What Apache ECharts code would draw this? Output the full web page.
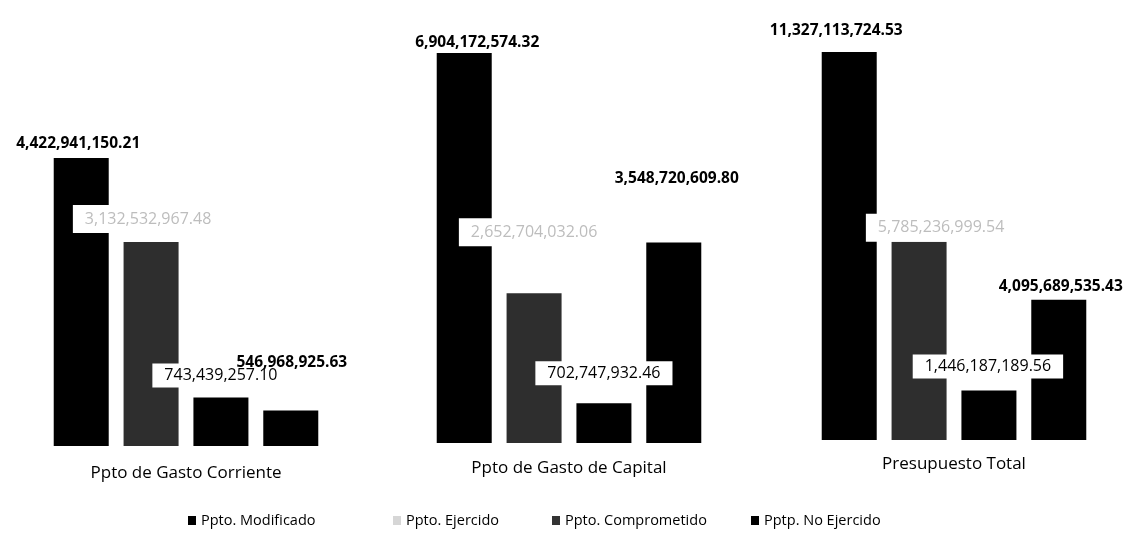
<!DOCTYPE html>
<html>
<head>
<meta charset="utf-8">
<script src="https://cdn.jsdelivr.net/npm/echarts@6/dist/echarts.min.js"></script>
<style>
html, body { margin: 0; background: #fff; }
#chart { width: 1131px; height: 537px; }
</style>
</head>
<body>
<div id="chart"></div>
<script>
// data
const categories = ['Ppto de Gasto Corriente', 'Ppto de Gasto de Capital', 'Presupuesto Total'];
const seriesNames = ['Ppto. Modificado', 'Ppto. Ejercido', 'Ppto. Comprometido', 'Pptp. No Ejercido'];
const modificado = [4422941150.21, 6904172574.32, 11327113724.53];
const ejercido = [3132532967.48, 2652704032.06, 5785236999.54];
const comprometido = [743439257.10, 702747932.46, 1446187189.56];
const noEjercido = [546968925.63, 3548720609.80, 4095689535.43];

const values = [modificado, ejercido, comprometido, noEjercido];
const barColors = ['#000000', '#2e2e2e', '#000000', '#000000'];
const legendColors = ['#000000', '#d6d6d6', '#333333', '#000000'];
const legendLeft = [183, 388, 547, 746];

// each block is its own little chart, like in the original
const grids = [
    { left: 44, width: 284, top: 158, bottom: 91 },
    { left: 427, width: 284, top: 53, bottom: 94 },
    { left: 812, width: 284, top: 52, bottom: 97 }
];
const catMargins = [19, 17, 16];

const labelBase = [
    { fontWeight: 'bold', fontSize: 15.5, color: '#000' },
    { fontSize: 16, color: '#bdbdbd', backgroundColor: '#fff', padding: [6, 12] },
    { fontSize: 16, color: '#000', backgroundColor: '#fff', padding: [4, 12] },
    { fontWeight: 'bold', fontSize: 15.5, color: '#000' }
];
// [distance, dx] per series, per block
const labelPos = [
    [[6.5, -3], [2.5, 13], [13.5, -13]],
    [[9, -3], [47, 0], [0, 22]],
    [[10, 0], [18, 0], [12, -1]],
    [[39.5, 1], [55.5, 3], [5.5, 2]]
];

function fmt(v) {
    return v.toLocaleString('en-US', { minimumFractionDigits: 2, maximumFractionDigits: 2 });
}

const xAxis = [], yAxis = [], series = [];
for (let g = 0; g < 3; g++) {
    xAxis.push({
        type: 'category',
        gridIndex: g,
        data: [categories[g]],
        axisLine: { show: false },
        axisTick: { show: false },
        axisLabel: { margin: catMargins[g], fontSize: 17, color: '#000', fontFamily: 'Open Sans' }
    });
    yAxis.push({ type: 'value', gridIndex: g, min: 0, max: 'dataMax', show: false });
    for (let s = 0; s < 4; s++) {
        series.push({
            name: seriesNames[s],
            type: 'bar',
            xAxisIndex: g,
            yAxisIndex: g,
            barWidth: 55,
            barGap: '27%',
            data: [values[s][g]],
            itemStyle: { color: barColors[s] },
            label: Object.assign({
                show: true,
                position: 'top',
                distance: labelPos[s][g][0],
                offset: [labelPos[s][g][1], 0],
                fontFamily: 'Open Sans',
                formatter: p => fmt(p.value)
            }, labelBase[s])
        });
    }
}

// one legend per entry so the uneven spacing of the original can be kept
const legend = seriesNames.map((n, i) => ({
    left: legendLeft[i],
    top: 508,
    itemWidth: 8,
    itemHeight: 9,
    icon: 'rect',
    textStyle: { fontSize: 14.5, color: '#000', fontFamily: 'Open Sans' },
    data: [{ name: n, itemStyle: { color: legendColors[i] } }]
}));

const chart = echarts.init(document.getElementById('chart'));
chart.setOption({
    backgroundColor: '#fff',
    animation: false,
    textStyle: { fontFamily: 'Open Sans' },
    legend: legend,
    grid: grids,
    xAxis: xAxis,
    yAxis: yAxis,
    series: series
});
</script>
</body>
</html>
